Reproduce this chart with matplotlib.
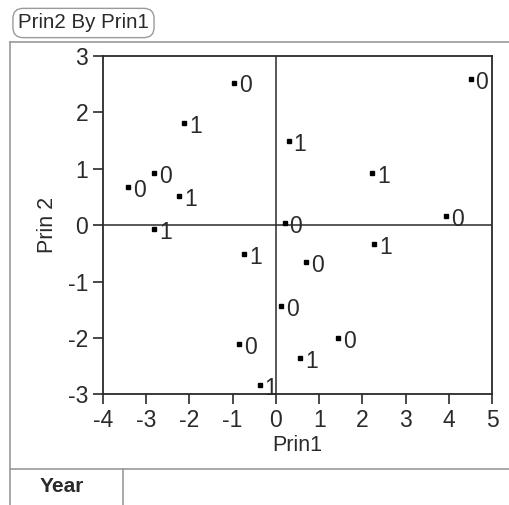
import matplotlib

matplotlib.use("Agg")
import matplotlib.pyplot as plt
from matplotlib.lines import Line2D

plt.rcParams["font.family"] = ["Liberation Sans", "DejaVu Sans"]
plt.rcParams["axes.unicode_minus"] = False

# Prin1 / Prin2 scores, labelled by Year class
prin1 = [-0.96, -2.81, -3.42, 4.50, 3.93, 0.20, -0.85, 0.70, 0.12, 1.44,
         -2.12, -2.23, -2.81, 0.30, 2.23, 2.27, -0.73, -0.37, 0.56]
prin2 = [2.53, 0.92, 0.68, 2.59, 0.17, 0.04, -2.10, -0.66, -1.44, -2.01,
         1.81, 0.52, -0.06, 1.49, 0.93, -0.34, -0.52, -2.83, -2.35]
year = ["0", "0", "0", "0", "0", "0", "0", "0", "0", "0",
        "1", "1", "1", "1", "1", "1", "1", "1", "1"]

x_ticks = [-4, -3, -2, -1, 0, 1, 2, 3, 4, 5]
y_ticks = [-3, -2, -1, 0, 1, 2, 3]

W, H = 509, 505
fig = plt.figure(figsize=(W / 100, H / 100), dpi=100)
ax = fig.add_axes([102.7 / W, 1 - 394.3 / H, 389.6 / W, 338.3 / H])

ink = "#2a2a2a"
ax.plot(prin1, prin2, ls="none", marker="s", ms=3.3, color="black")
for x, y, t in zip(prin1, prin2, year):
    ax.annotate(t, (x, y), xytext=(3.5, -2.5), textcoords="offset points",
                ha="left", va="center", fontsize=16.5, color=ink)

ax.axhline(0, color=ink, lw=1.1, zorder=0)
ax.axvline(0, color=ink, lw=1.1, zorder=0)

ax.set_xlim(-4, 5)
ax.set_ylim(-3, 3)
ax.set_xticks(x_ticks)
ax.set_yticks(y_ticks)
ax.tick_params(direction="out", length=7, width=1.2, colors=ink, labelsize=16.5, pad=3.5)
for s in ax.spines.values():
    s.set_color(ink)
    s.set_linewidth(1.3)
ax.set_xlabel("Prin1", fontsize=15.5, color=ink, labelpad=2)
ax.set_ylabel("Prin 2", fontsize=15.5, color=ink, labelpad=7)

# report frame around the plot
gray = "#9a9a9a"
fig.add_artist(Line2D([10 / W, 1], [1 - 42 / H, 1 - 42 / H], color=gray, lw=1.2, transform=fig.transFigure))
fig.add_artist(Line2D([10 / W, 10 / W], [0, 1 - 42 / H], color=gray, lw=1.2, transform=fig.transFigure))
fig.add_artist(Line2D([10 / W, 1], [1 - 469 / H, 1 - 469 / H], color=gray, lw=1.2, transform=fig.transFigure))
fig.add_artist(Line2D([123 / W, 123 / W], [0, 1 - 469 / H], color=gray, lw=1.2, transform=fig.transFigure))

fig.text(83.5 / W, 1 - 23 / H, "Prin2 By Prin1", ha="center", va="center", fontsize=14.8, color=ink,
         bbox=dict(boxstyle="round,pad=0.25,rounding_size=0.5", fc="white", ec=gray, lw=1.0))
fig.text(62 / W, 1 - 487 / H, "Year", ha="center", va="center", fontsize=15, fontweight="bold", color=ink)

fig.savefig("out.png", dpi=100, facecolor="white")
